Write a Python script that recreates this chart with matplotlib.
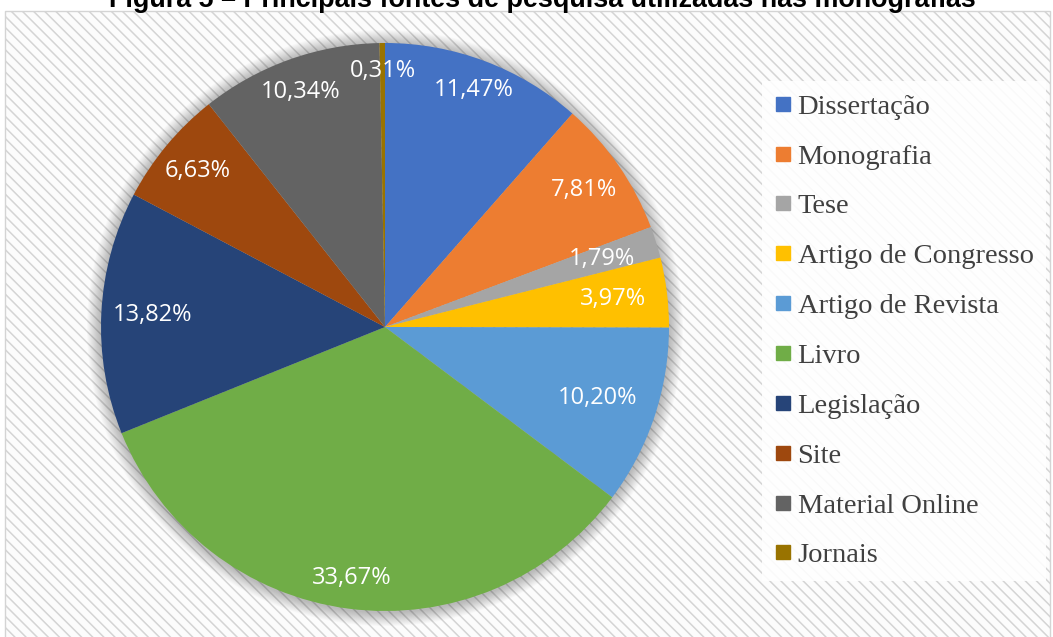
import matplotlib
matplotlib.use("Agg")
import matplotlib.pyplot as plt
from matplotlib.patches import Rectangle, Circle
from matplotlib.lines import Line2D
import numpy as np

# ---- data ----
categories = ["Dissertação", "Monografia", "Tese", "Artigo de Congresso",
              "Artigo de Revista", "Livro", "Legislação", "Site",
              "Material Online", "Jornais"]
values = [11.47, 7.81, 1.79, 3.97, 10.20, 33.67, 13.82, 6.63, 10.34, 0.31]
title = "Figura 5 – Principais fontes de pesquisa utilizadas nas monografias"

# ---- style ----
colors = ["#4472C4", "#ED7D31", "#A5A5A5", "#FFC000", "#5B9BD5",
          "#70AD47", "#264478", "#9E480E", "#636363", "#997300"]
label_dist = [0.89, 0.85, 0.80, 0.81, 0.79, 0.89, 0.82, 0.86, 0.88, 0.90]

W, H = 1053, 637
fig = plt.figure(figsize=(W / 100, H / 100), dpi=100)
fig.patch.set_facecolor("white")
ax = fig.add_axes([0, 0, 1, 1])
plt.rcParams['hatch.linewidth'] = 1.1
plt.rcParams['hatch.color'] = '#f0f0f0'

def Y(py):
    return H - py

# chart area background with diagonal hatch
bg = Rectangle((5, Y(H + 5)), 1045, H + 5 - 11, facecolor="#fcfcfc",
               edgecolor="#d4d4d4", linewidth=1.0, hatch="\\\\\\", zorder=0)
ax.add_patch(bg)

cx, cy, R = 385, Y(327), 284
# soft shadow halo
for k in range(14, 0, -1):
    ax.add_patch(Circle((cx, cy - 1), R + k, facecolor="black",
                        edgecolor="none", alpha=0.018, zorder=1))

wedges, _ = ax.pie(values, colors=colors, startangle=90, counterclock=False,
                   center=(cx, cy), radius=R, wedgeprops=dict(linewidth=0, zorder=2))
for w in wedges:
    w.set_zorder(2)

for w, v, d in zip(wedges, values, label_dist):
    th = np.deg2rad((w.theta1 + w.theta2) / 2)
    x = cx + d * R * np.cos(th)
    y = cy + d * R * np.sin(th)
    ax.text(x, y, f"{v:.2f}%".replace(".", ","), color="white",
            fontsize=17, family="Open Sans", ha="center", va="center", zorder=3)

ax.set_xlim(0, W)
ax.set_ylim(0, H)
ax.set_aspect("auto")
ax.axis("off")

handles = [Line2D([], [], marker="s", color=c, linestyle="None", markersize=9.5)
           for c in colors]
leg = ax.legend(handles, categories, loc="upper left",
                bbox_to_anchor=(762 / W, 1 - 81 / H), bbox_transform=ax.transAxes,
                frameon=True, fancybox=False, facecolor="white", edgecolor="none",
                framealpha=0.88, borderpad=0.45, labelspacing=0.84,
                handlelength=0.55, handletextpad=0.25, borderaxespad=0,
                prop=dict(family="Liberation Serif", size=20.5))
for t in leg.get_texts():
    t.set_color("#404040")
leg.set_zorder(5)

# title (partly clipped at top like the reference)
tt = fig.text(542 / W, 1 - 7 / H, title, ha="center", va="baseline",
              fontsize=17, fontweight="bold", family="Liberation Sans", color="black")
r = fig.canvas.get_renderer()
wpx = tt.get_window_extent(r).width
tt.set_fontsize(17 * 870 / wpx)

fig.savefig("out.png", dpi=100)
